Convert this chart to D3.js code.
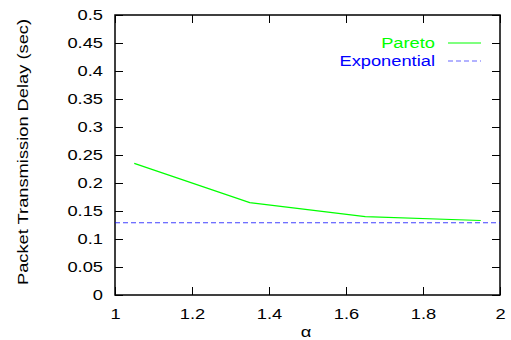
<!DOCTYPE html>
<html>
<head>
<meta charset="utf-8">
<script src="https://cdn.jsdelivr.net/npm/d3@7"></script>
<style>
  html, body { margin: 0; padding: 0; background: #fff; }
  svg { display: block; }
  text { font-family: "Liberation Sans", Arial, Helvetica, sans-serif; }
</style>
</head>
<body>
<svg id="chart" width="511" height="340"></svg>
<script>
// Packet transmission delay against the shape parameter alpha
const alphaValues = [1.05, 1.35, 1.65, 1.95];
const paretoDelay = [0.235, 0.165, 0.140, 0.133];
const exponentialDelay = 0.129;
const xTicks = [1, 1.2, 1.4, 1.6, 1.8, 2];
const yTicks = [0, 0.05, 0.1, 0.15, 0.2, 0.25, 0.3, 0.35, 0.4, 0.45, 0.5];
const seriesNames = ["Pareto", "Exponential"];
const seriesColors = ["#00ff00", "#0000ff"];

const svg = d3.select("#chart");
const margin = { left: 115, right: 11, top: 15, bottom: 45 };
const W = 511, H = 340;
const FS = 15.5;      // glyph height
const WIDE = 1.18;    // glyphs are drawn wide along the baseline

const x = d3.scaleLinear().domain([1, 2]).range([margin.left, W - margin.right]);
const y = d3.scaleLinear().domain([0, 0.5]).range([H - margin.bottom, margin.top]);

const tickLen = 8;
const fmt = d => String(+d.toFixed(2));

// stretch a text element horizontally around its own anchor x
function widen(sel) {
  sel.each(function () {
    const t = d3.select(this);
    const ax = +t.attr("x") || 0;
    t.attr("transform", `translate(${ax},0) scale(${WIDE},1) translate(${-ax},0)`);
  });
}

// Axes with inward ticks on all four sides
const axisBottomG = svg.append("g").attr("transform", `translate(0,${y(0)})`)
  .call(d3.axisBottom(x).tickValues(xTicks).tickSizeInner(-tickLen).tickSizeOuter(0).tickPadding(13).tickFormat(fmt));
const axisTopG = svg.append("g").attr("transform", `translate(0,${y(0.5)})`)
  .call(d3.axisTop(x).tickValues(xTicks).tickSizeInner(-tickLen).tickSizeOuter(0).tickFormat(""));
const axisLeftG = svg.append("g").attr("transform", `translate(${x(1)},0)`)
  .call(d3.axisLeft(y).tickValues(yTicks).tickSizeInner(-tickLen).tickSizeOuter(0).tickPadding(12).tickFormat(fmt));
const axisRightG = svg.append("g").attr("transform", `translate(${x(2)},0)`)
  .call(d3.axisRight(y).tickValues(yTicks).tickSizeInner(-tickLen).tickSizeOuter(0).tickFormat(""));

[axisBottomG, axisTopG, axisLeftG, axisRightG].forEach(g => {
  g.select(".domain").remove();
  g.selectAll("line").attr("stroke", "#000").attr("stroke-width", 1);
  g.selectAll("text").attr("font-size", FS).attr("fill", "#000")
    .attr("font-family", "'Liberation Sans', Arial, sans-serif")
    .call(widen);
});

// Frame
svg.append("rect")
  .attr("x", x(1)).attr("y", y(0.5))
  .attr("width", x(2) - x(1)).attr("height", y(0) - y(0.5))
  .attr("fill", "none").attr("stroke", "#000").attr("stroke-width", 1.5);

// Pareto curve
const line = d3.line().x(d => x(d[0])).y(d => y(d[1]));
svg.append("path")
  .datum(alphaValues.map((a, i) => [a, paretoDelay[i]]))
  .attr("d", line)
  .attr("fill", "none").attr("stroke", seriesColors[0]).attr("stroke-width", 1.2);

// Exponential reference level
svg.append("line")
  .attr("x1", x(1)).attr("x2", x(2))
  .attr("y1", y(exponentialDelay)).attr("y2", y(exponentialDelay))
  .attr("stroke", seriesColors[1]).attr("stroke-width", 1.2).attr("stroke-opacity", 0.75)
  .attr("stroke-dasharray", "5,3");

// Legend
const legend = svg.append("g");
seriesNames.forEach((name, i) => {
  const ly = 43 + i * 18;
  legend.append("text")
    .attr("x", 435).attr("y", ly).attr("dy", "0.35em")
    .attr("text-anchor", "end").attr("font-size", FS)
    .attr("fill", seriesColors[i]).text(name)
    .call(widen);
  legend.append("line")
    .attr("x1", 448).attr("x2", 481).attr("y1", ly).attr("y2", ly)
    .attr("stroke", seriesColors[i]).attr("stroke-width", 1.2)
    .attr("stroke-opacity", i === 1 ? 0.6 : 1)
    .attr("stroke-dasharray", i === 1 ? "5,3" : null);
});

// Axis titles
svg.append("text")
  .attr("x", 306).attr("y", 337)
  .attr("text-anchor", "middle").attr("font-size", FS).text("α")
  .call(widen);
svg.append("text")
  .attr("transform", `translate(28,152) rotate(-90) scale(${WIDE},1)`)
  .attr("text-anchor", "middle").attr("font-size", FS).text("Packet Transmission Delay (sec)");
</script>
</body>
</html>
